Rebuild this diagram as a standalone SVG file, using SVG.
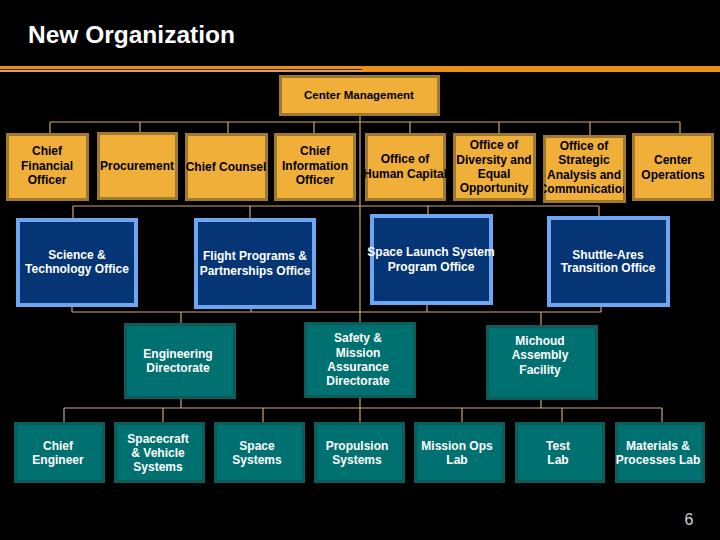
<svg xmlns="http://www.w3.org/2000/svg" width="720" height="540" viewBox="0 0 720 540">
<style>
.t{font-family:"Liberation Sans",Arial,sans-serif;font-weight:bold;font-size:12px;text-anchor:middle}
.dk{fill:#000}
.wh{fill:#fff}
.gold{fill:#EFAF38;stroke:#A07A2C;stroke-width:3}
.blue{fill:#063576;stroke:#6EA6F2;stroke-width:4}
.teal{fill:#007070;stroke:#0D5C5A;stroke-width:3}
.conn{fill:none;stroke:#C9A47E;stroke-width:1.2}
</style>
<defs>
<clipPath id="clipHC"><rect x="364" y="133" width="82" height="67"/></clipPath>
<clipPath id="clipSA"><rect x="544" y="135" width="80" height="67"/></clipPath>
</defs>
<rect width="720" height="540" fill="#000"/>
<g id="title">
<text x="28" y="43" font-family="Liberation Sans,Arial,sans-serif" font-weight="bold" font-size="24.5" fill="#fff">New Organization</text>
<rect x="0" y="66" width="720" height="6" fill="#E8901A"/>
<rect x="0" y="69" width="362" height="1" fill="#3a2008"/>
<rect x="0" y="70" width="362" height="1.5" fill="#D9A27A"/>
</g>
<g id="connectors" class="conn">
<path d="M360 116V408"/>
<path d="M50 122H680M50 122V133M140 122V133M228 122V133M314 122V133M410 122V133M499 122V133M590 122V135M680 122V133"/>
<path d="M73 206H599M73 206V218M250 206V218M428 206V214M599 206V216"/>
<path d="M72 312H601M72 307V312M251 309V312M427 305V312M601 307V312M181 312V323M541 312V325"/>
<path d="M64 408H662M181 397V408M541 399V408M64 408V422M163 408V422M263 408V422M360 408V422M462 408V422M562 408V422M662 408V422"/>
</g>
<g id="center-management">
<rect class="gold" x="280.5" y="76.5" width="158" height="38"/>
<text class="dk" x="359" y="99" font-family="Liberation Sans,Arial,sans-serif" font-weight="bold" font-size="11.5" text-anchor="middle">Center Management</text>
</g>
<g id="cfo">
<rect class="gold" x="7.5" y="134.5" width="80" height="65"/>
<text class="t dk" x="47" y="155">Chief</text>
<text class="t dk" x="47" y="170">Financial</text>
<text class="t dk" x="47" y="184">Officer</text>
</g>
<g id="procurement">
<rect class="gold" x="98.5" y="133.5" width="78" height="65"/>
<text class="t dk" x="137" y="170">Procurement</text>
</g>
<g id="chief-counsel">
<rect class="gold" x="186.5" y="134.5" width="80" height="65"/>
<text class="t dk" x="226" y="171">Chief Counsel</text>
</g>
<g id="cio">
<rect class="gold" x="275.5" y="134.5" width="79" height="65"/>
<text class="t dk" x="315" y="155">Chief</text>
<text class="t dk" x="315" y="170">Information</text>
<text class="t dk" x="315" y="184">Officer</text>
</g>
<g id="human-capital">
<rect class="gold" x="366.5" y="134.5" width="78" height="65"/>
<g clip-path="url(#clipHC)">
<text class="t dk" x="405" y="163">Office of</text>
<text class="t dk" x="405" y="178">Human Capital</text>
</g>
</g>
<g id="diversity">
<rect class="gold" x="454.5" y="134.5" width="80" height="65"/>
<text class="t dk" x="494" y="149">Office of</text>
<text class="t dk" x="494" y="164">Diversity and</text>
<text class="t dk" x="494" y="178">Equal</text>
<text class="t dk" x="494" y="192">Opportunity</text>
</g>
<g id="strategic">
<rect class="gold" x="544.5" y="136.5" width="80" height="65"/>
<g clip-path="url(#clipSA)">
<text class="t dk" x="584" y="150">Office of</text>
<text class="t dk" x="584" y="164">Strategic</text>
<text class="t dk" x="584" y="179">Analysis and</text>
<text class="t dk" x="584" y="193">Communication</text>
</g>
</g>
<g id="center-operations">
<rect class="gold" x="633.5" y="134.5" width="79" height="65"/>
<text class="t dk" x="673" y="164">Center</text>
<text class="t dk" x="673" y="179">Operations</text>
</g>
<g id="science-technology">
<rect class="blue" x="18" y="220" width="118" height="85"/>
<text class="t wh" x="77" y="259">Science &amp;</text>
<text class="t wh" x="77" y="273">Technology Office</text>
</g>
<g id="flight-programs">
<rect class="blue" x="196" y="220" width="118" height="87"/>
<text class="t wh" x="255" y="260">Flight Programs &amp;</text>
<text class="t wh" x="255" y="275">Partnerships Office</text>
</g>
<g id="sls">
<rect class="blue" x="372" y="216" width="119" height="87"/>
<text class="t wh" x="431" y="256">Space Launch System</text>
<text class="t wh" x="431" y="271">Program Office</text>
</g>
<g id="shuttle-ares">
<rect class="blue" x="549" y="218" width="119" height="87"/>
<text class="t wh" x="608" y="259">Shuttle-Ares</text>
<text class="t wh" x="608" y="272">Transition Office</text>
</g>
<g id="engineering">
<rect class="teal" x="125.5" y="324.5" width="109" height="73"/>
<text class="t wh" x="178" y="358">Engineering</text>
<text class="t wh" x="178" y="372">Directorate</text>
</g>
<g id="safety">
<rect class="teal" x="305.5" y="323.5" width="109" height="73"/>
<text class="t wh" x="358" y="342">Safety &amp;</text>
<text class="t wh" x="358" y="357">Mission</text>
<text class="t wh" x="358" y="371">Assurance</text>
<text class="t wh" x="358" y="385">Directorate</text>
</g>
<g id="michoud">
<rect class="teal" x="487.5" y="326.5" width="109" height="72"/>
<text class="t wh" x="540" y="345">Michoud</text>
<text class="t wh" x="540" y="359">Assembly</text>
<text class="t wh" x="540" y="374">Facility</text>
</g>
<g id="chief-engineer">
<rect class="teal" x="15.5" y="423.5" width="88" height="58"/>
<text class="t wh" x="58" y="450">Chief</text>
<text class="t wh" x="58" y="464">Engineer</text>
</g>
<g id="spacecraft-vehicle">
<rect class="teal" x="115.5" y="423.5" width="88" height="58"/>
<text class="t wh" x="158" y="443">Spacecraft</text>
<text class="t wh" x="158" y="457">&amp; Vehicle</text>
<text class="t wh" x="158" y="471">Systems</text>
</g>
<g id="space-systems">
<rect class="teal" x="215.5" y="423.5" width="88" height="58"/>
<text class="t wh" x="257" y="450">Space</text>
<text class="t wh" x="257" y="464">Systems</text>
</g>
<g id="propulsion">
<rect class="teal" x="315.5" y="423.5" width="88" height="58"/>
<text class="t wh" x="357" y="450">Propulsion</text>
<text class="t wh" x="357" y="464">Systems</text>
</g>
<g id="mission-ops">
<rect class="teal" x="415.5" y="423.5" width="88" height="58"/>
<text class="t wh" x="457" y="450">Mission Ops</text>
<text class="t wh" x="457" y="464">Lab</text>
</g>
<g id="test-lab">
<rect class="teal" x="516.5" y="423.5" width="87" height="58"/>
<text class="t wh" x="558" y="450">Test</text>
<text class="t wh" x="558" y="464">Lab</text>
</g>
<g id="materials">
<rect class="teal" x="616.5" y="423.5" width="87" height="58"/>
<text class="t wh" x="658" y="450">Materials &amp;</text>
<text class="t wh" x="658" y="464">Processes Lab</text>
</g>
<text x="689" y="525" font-family="Liberation Sans,Arial,sans-serif" font-size="16" fill="#d0d0d0" text-anchor="middle">6</text>
</svg>
